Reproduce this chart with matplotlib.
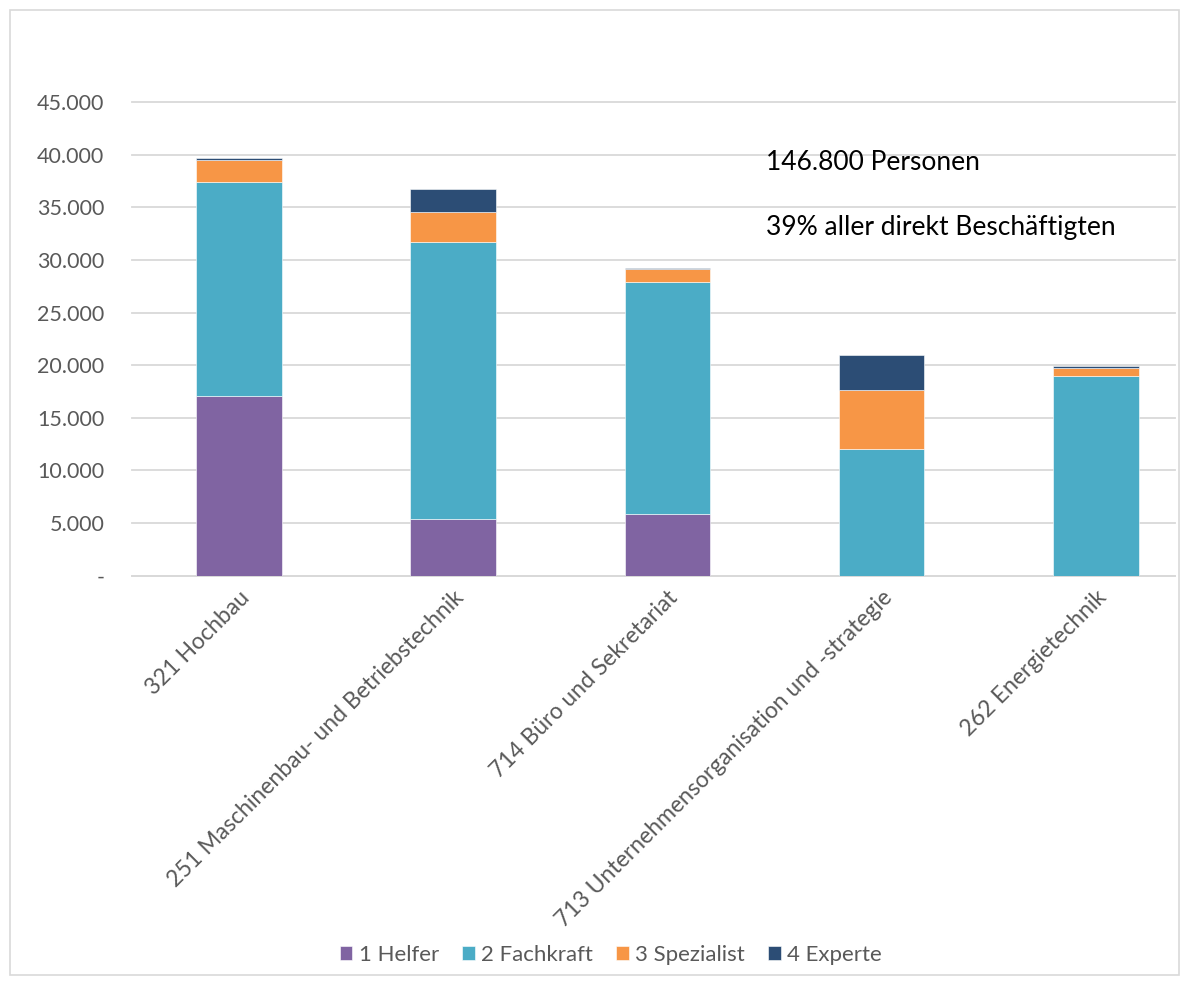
import matplotlib
matplotlib.use("Agg")
import matplotlib.pyplot as plt
from matplotlib.patches import Rectangle
from matplotlib.ticker import FuncFormatter

categories = ["321 Hochbau", "251 Maschinenbau- und Betriebstechnik", "714 Büro und Sekretariat",
              "713 Unternehmensorganisation und -strategie", "262 Energietechnik"]
helfer = [17040, 5390, 5830, 0, 0]
fachkraft = [20360, 26310, 22040, 12040, 19000]
spezialist = [2090, 2880, 1290, 5600, 730]
experte = [220, 2150, 70, 3350, 220]
series_names = ["1 Helfer", "2 Fachkraft", "3 Spezialist", "4 Experte"]
colors = ["#8064A2", "#4BACC6", "#F79646", "#2C4D75"]
yticks = [0, 5000, 10000, 15000, 20000, 25000, 30000, 35000, 40000, 45000]
note1 = "146.800 Personen"
note2 = "39% aller direkt Beschäftigten"

plt.rcParams['font.family'] = ['Lato', 'DejaVu Sans']
W, H = 1189, 985
fig = plt.figure(figsize=(W / 100, H / 100), dpi=100)

# outer chart border
fig.patches.append(Rectangle((10 / W, 10 / H), 1 - 20 / W, 1 - 20 / H, transform=fig.transFigure,
                             fill=False, edgecolor="#D9D9D9", linewidth=1.2))

left, right = 132 / W, 1175 / W
bottom, top = 1 - 575.7 / H, 1 - 102 / H
ax = fig.add_axes([left, bottom, right - left, top - bottom])

x = list(range(len(categories)))
data = [helfer, fachkraft, spezialist, experte]
base = [0] * len(categories)
for vals, name, col in zip(data, series_names, colors):
    ax.bar(x, vals, bottom=base, width=0.40, color=col, label=name,
           edgecolor="#FFFFFF", linewidth=0.4, zorder=3)
    base = [b + v for b, v in zip(base, vals)]

ax.set_xlim(-0.5, 4.37)
ax.set_ylim(0, 45000)
ax.set_yticks(yticks)
ax.yaxis.set_major_formatter(FuncFormatter(lambda v, p: "-" if v == 0 else f"{int(v):,}".replace(",", ".")))
ax.yaxis.grid(True, color="#D9D9D9", linewidth=1.3, zorder=0)
for gl in ax.get_ygridlines():
    gl.set_clip_on(False)
ax.set_axisbelow(True)
for s in ["top", "right", "left"]:
    ax.spines[s].set_visible(False)
ax.spines["bottom"].set_color("#D9D9D9")
ax.spines["bottom"].set_linewidth(1.3)
ax.tick_params(axis="y", length=0, pad=20, labelsize=15.5, labelcolor="#595959")
ax.tick_params(axis="x", length=0, pad=8, labelsize=16.5, labelcolor="#595959")
ax.set_xticks(x)
ax.set_xticklabels(categories, rotation=45, ha="right", rotation_mode="anchor")

ax.text(766 / W, 1 - 162 / H, note1, transform=fig.transFigure, fontsize=19, color="#000000",
        va="center", ha="left")
ax.text(766 / W, 1 - 227 / H, note2, transform=fig.transFigure, fontsize=19, color="#000000",
        va="center", ha="left")

fig.legend(loc="center", bbox_to_anchor=(611 / W, 1 - 955 / H), ncol=4, frameon=False,
           fontsize=16, labelcolor="#595959", handlelength=0.55, handleheight=0.55,
           handletextpad=0.3, columnspacing=1.05)

fig.savefig("out.png", dpi=100)
